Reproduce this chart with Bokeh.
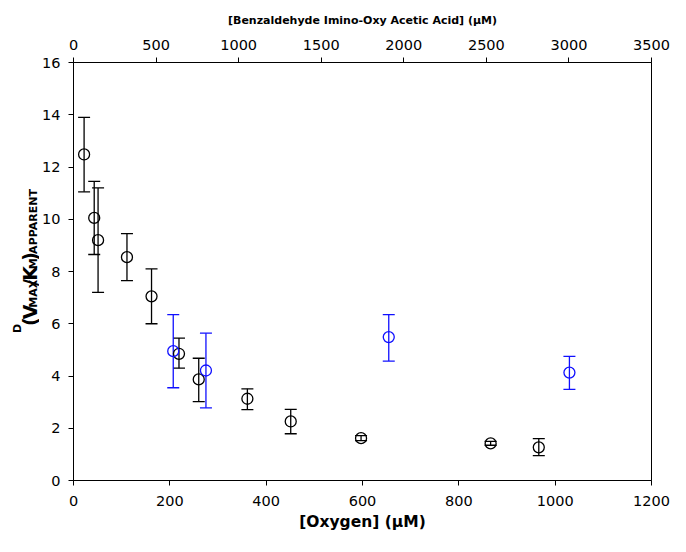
import numpy as np
from bokeh.plotting import figure
from bokeh.layouts import row
from bokeh.models import (ColumnDataSource, Whisker, TeeHead, Range1d, LinearAxis,
                          FixedTicker, Label)
from bokeh.embed import file_html
from bokeh.resources import INLINE

# Oxygen series (bottom axis)
oxy_x = [22, 43, 51, 111, 162, 219, 260, 361, 451, 597, 866, 966]
oxy_y = [12.48, 10.05, 9.2, 8.55, 7.05, 4.85, 3.87, 3.13, 2.26, 1.62, 1.42, 1.27]
oxy_lo = [11.05, 8.65, 7.2, 7.65, 6.0, 4.3, 3.02, 2.71, 1.79, 1.53, 1.35, 0.95]
oxy_hi = [13.9, 11.45, 11.2, 9.45, 8.1, 5.45, 4.68, 3.51, 2.72, 1.72, 1.5, 1.6]

# Benzaldehyde series (top axis)
bz_x = [604, 802, 1909, 3003]
bz_y = [4.95, 4.21, 5.49, 4.13]
bz_lo = [3.55, 2.78, 4.57, 3.49]
bz_hi = [6.35, 5.64, 6.35, 4.75]

x_ticks = [0, 200, 400, 600, 800, 1000, 1200]
top_ticks = [0, 500, 1000, 1500, 2000, 2500, 3000, 3500]
y_ticks = [0, 2, 4, 6, 8, 10, 12, 14, 16]

W, H = 670, 536
LW = 39                      # width of the strip holding the y-axis title
FL, FR, FT, FB = 71, 651, 62, 480

p = figure(width=W - LW, height=H, output_backend="svg", toolbar_location=None,
           x_range=Range1d(0, 1200), y_range=Range1d(0, 16),
           min_border_left=FL - LW, min_border_right=W - FR,
           min_border_top=FT, min_border_bottom=H - FB)
p.extra_x_ranges = {"top": Range1d(0, 3500)}
p.xgrid.visible = False
p.ygrid.visible = False
p.outline_line_color = "black"
p.outline_line_width = 1
p.background_fill_color = "white"
p.border_fill_color = "white"

TICK_FONT = "DejaVu Sans"

def style_axis(ax):
    ax.axis_line_color = "black"
    ax.major_tick_line_color = "black"
    ax.minor_tick_line_color = None
    ax.major_tick_out = 5
    ax.major_tick_in = 0
    ax.major_label_text_font = TICK_FONT
    ax.major_label_text_font_size = "14.5px"
    ax.major_label_text_color = "black"
    ax.axis_label_text_font = "DejaVu Sans"
    ax.axis_label_text_font_style = "bold"
    ax.axis_label_text_color = "black"

p.xaxis.ticker = FixedTicker(ticks=x_ticks)
p.yaxis.ticker = FixedTicker(ticks=y_ticks)
style_axis(p.xaxis[0])
style_axis(p.yaxis[0])
p.xaxis.axis_label = "[Oxygen] (μM)"
p.xaxis.axis_label_text_font_size = "15.5px"
p.xaxis.major_label_standoff = 10
p.xaxis.axis_label_standoff = 4
p.yaxis.major_label_standoff = 8

top = LinearAxis(x_range_name="top", ticker=FixedTicker(ticks=top_ticks),
                 axis_label="[Benzaldehyde Imino-Oxy Acetic Acid] (μM)")
style_axis(top)
top.axis_label_text_font_size = "11px"
top.major_label_standoff = 8
top.axis_label_standoff = 10
p.add_layout(top, "above")

# error bars + markers
src_o = ColumnDataSource(dict(x=oxy_x, y=oxy_y, lo=oxy_lo, hi=oxy_hi))
src_b = ColumnDataSource(dict(x=bz_x, y=bz_y, lo=bz_lo, hi=bz_hi))

for src, col, rng in [(src_o, "black", "default"), (src_b, "#1010ff", "top")]:
    w = Whisker(source=src, base="x", upper="hi", lower="lo", dimension="height",
                line_color=col, line_width=1.3,
                upper_head=TeeHead(size=12, line_color=col, line_width=1.3),
                lower_head=TeeHead(size=12, line_color=col, line_width=1.3))
    w.x_range_name = rng
    p.add_layout(w)
    p.scatter("x", "y", source=src, marker="circle", size=11, fill_color=None,
              line_color=col, line_width=1.3, x_range_name=rng)

# strip with the composite y-axis title  D(V_MAX/K_M)_APPARENT
# (y range runs top-down so positions are canvas pixels from the top)
lf = figure(width=LW, height=H, output_backend="svg", toolbar_location=None,
            x_range=Range1d(0, LW), y_range=Range1d(H, 0), min_border=0,
            x_axis_type=None, y_axis_type=None)
lf.xgrid.visible = False
lf.ygrid.visible = False
lf.outline_line_color = None
lf.background_fill_color = "white"
lf.border_fill_color = "white"

pieces = [
    ("D", 11, 17),
    ("(", 19, 29),
    ("V", 19, 29),
    ("MAX", 11, 33),
    ("/", 19, 29),
    ("K", 19, 29),
    ("M", 11, 33),
    (")", 19, 29),
    ("APPARENT", 11, 33),
]
widths = {"D": 0.830, "(": 0.457, "V": 0.774, "/": 0.365, "K": 0.775, ")": 0.457,
          "M": 0.995, "A": 0.774, "X": 0.757, "P": 0.733, "R": 0.770, "E": 0.683,
          "N": 0.837, "T": 0.682}
cy = 347.0
for txt, fs, bx in pieces:
    lf.add_layout(Label(x=bx, y=cy, text=txt,
                        angle=np.pi / 2, text_font="DejaVu Sans",
                        text_font_style="bold", text_font_size=f"{fs}px",
                        text_color="black", text_align="left",
                        text_baseline="alphabetic"))
    cy -= sum(widths[c] for c in txt) * fs

layout = row(lf, p)
open("out.html", "w").write(file_html(layout, INLINE))
